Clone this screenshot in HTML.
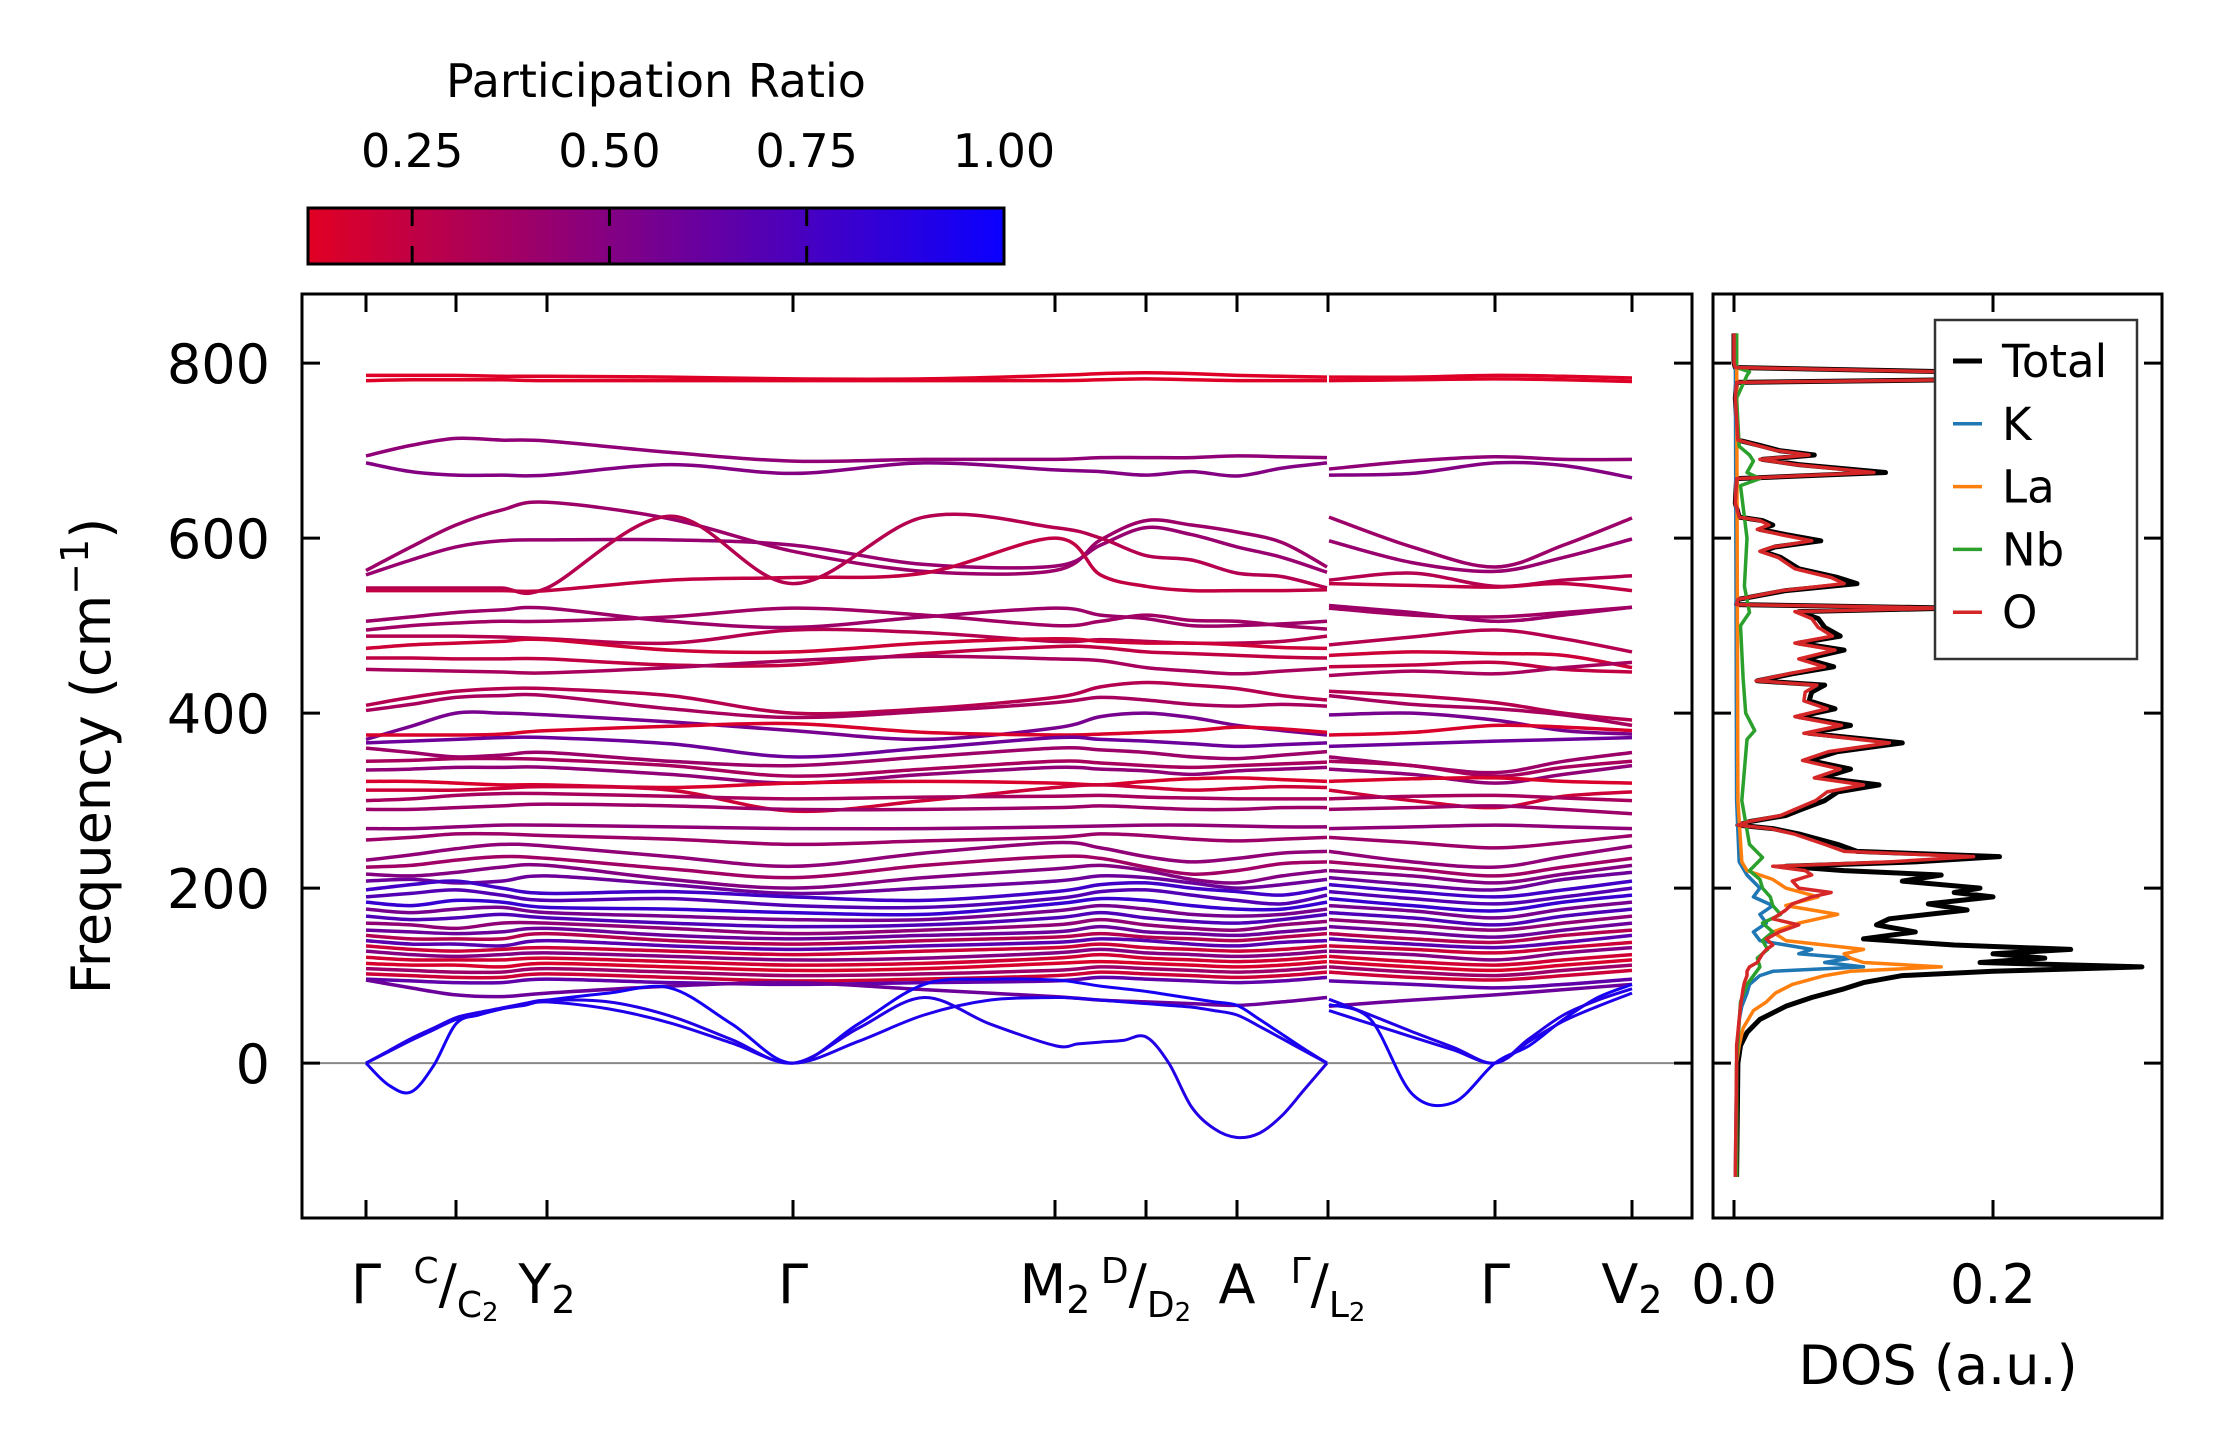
<!DOCTYPE html>
<html><head><meta charset="utf-8"><style>
html,body{margin:0;padding:0;background:#fff;}
svg{display:block;font-family:"DejaVu Sans","Liberation Sans",sans-serif;}
</style></head><body>
<svg id="fig" width="2222" height="1455" viewBox="0 0 2222 1455" xmlns="http://www.w3.org/2000/svg">
<defs>
<linearGradient id="cbgrad" x1="0" x2="1" y1="0" y2="0"><stop offset="0" stop-color="rgb(225,0,35)"/><stop offset="1" stop-color="rgb(10,0,255)"/></linearGradient>
<clipPath id="mainclip"><rect x="302" y="294" width="1390" height="924"/></clipPath>
<clipPath id="dosclip"><rect x="1713" y="294" width="449" height="924"/></clipPath>
</defs>
<g>
<text x="656" y="97" font-size="46" text-anchor="middle">Participation Ratio</text>
<rect x="308" y="208" width="696" height="56" fill="url(#cbgrad)" stroke="#000" stroke-width="3"/>
<g id="cbticks"></g>
</g>
<g id="main">
<g id="bands" clip-path="url(#mainclip)"></g>
<rect x="302" y="294" width="1390" height="924" fill="none" stroke="#000" stroke-width="3"/>
<g id="mainticks"></g>
<text transform="translate(110,756) rotate(-90)" font-size="54" text-anchor="middle">Frequency (cm<tspan font-size="38" dy="-22">−1</tspan><tspan dy="22">)</tspan></text>
</g>
<g id="dos">
<g id="doslines" clip-path="url(#dosclip)"></g>
<rect x="1713" y="294" width="449" height="924" fill="none" stroke="#000" stroke-width="3"/>
<g id="dosticks"></g>
<text x="1938" y="1384" font-size="54" text-anchor="middle">DOS (a.u.)</text>
<g id="legend"></g>
</g>
</svg>
<script>
const cbTicks = [0.25, 0.50, 0.75, 1.00];
const cbMin = 0.118, cbMax = 1.0;
const qpathA = [0, 0.90, 1.81, 4.27, 6.89, 7.80, 8.71, 9.61];
const qpathB = [9.63, 11.29, 12.66];
const labelK = ["Γ","C/C2","Y2","Γ","M2","D/D2","A","Γ/L2","Γ","V2"];
const labelD = [0,0.90,1.81,4.27,6.89,7.80,8.71,9.62,11.29,12.66];
const yTicks = [0,200,400,600,800];
const bandsA = [
[786,786,786,785,785,784,782,782,786,788,789,788,786,785,784],
[780,781,781,781,780,780,780,780,780,781,782,781,780,780,780],
[694,706,714,712,711,698,688,690,690,692,692,692,694,693,692],
[686,676,672,672,672,684,674,686,678,676,672,676,671,680,686],
[563,590,615,632,641,622,585,562,563,598,620,615,607,595,567],
[558,575,590,597,598,598,592,570,568,592,612,604,590,578,561],
[543,543,543,543,543,625,548,624,612,600,580,575,560,556,543],
[540,540,540,540,540,552,555,560,600,558,545,540,540,540,541],
[505,510,515,518,520,505,498,510,520,512,508,500,500,502,505],
[495,500,503,505,505,510,520,512,500,505,512,506,505,500,496],
[488,488,488,487,485,480,495,492,482,484,482,480,480,482,488],
[474,478,480,482,484,472,470,480,485,482,480,480,478,475,474],
[463,463,462,462,462,455,455,468,476,475,470,468,466,464,463],
[450,449,448,447,446,452,460,465,462,460,452,448,445,448,451],
[409,418,425,428,428,420,400,405,418,430,435,432,428,420,415],
[403,410,418,420,420,405,395,402,412,418,415,410,408,410,408],
[370,385,400,400,398,390,380,370,383,396,400,395,386,380,375],
[375,375,375,376,380,385,388,378,375,376,378,380,384,382,378],
[366,368,370,372,372,365,350,360,372,370,368,365,362,364,366],
[360,355,350,352,355,345,340,350,360,358,355,350,348,352,356],
[345,346,348,348,347,340,328,336,345,343,340,338,340,342,344],
[335,336,338,338,338,330,320,330,338,336,334,330,334,336,338],
[322,322,320,318,318,315,320,322,320,318,322,325,326,324,322],
[312,312,312,314,316,312,288,300,315,318,315,312,314,316,315],
[300,302,306,308,308,305,302,304,305,306,304,303,302,302,302],
[290,290,292,294,296,294,290,290,292,294,292,290,290,292,292],
[268,268,270,272,272,270,268,268,270,271,272,272,271,270,270],
[255,258,262,262,260,256,250,254,258,262,260,256,254,256,258],
[232,238,245,250,248,236,225,240,252,246,236,230,234,240,242],
[224,226,232,236,234,222,212,226,236,234,224,216,220,228,230],
[216,214,218,224,226,210,200,212,222,226,220,210,206,214,220],
[208,210,206,208,214,204,194,200,208,214,212,206,200,204,210],
[198,204,208,200,194,196,190,186,196,204,206,200,196,192,200],
[190,194,198,192,186,188,180,178,188,196,198,192,186,182,192],
[184,180,186,184,178,176,172,170,182,188,186,180,176,176,184],
[176,172,176,178,172,168,164,164,174,180,176,170,168,170,176],
[168,164,166,170,166,160,156,158,166,172,166,162,160,164,170],
[160,158,154,160,160,154,148,152,158,164,158,154,152,158,162],
[152,150,148,150,154,146,142,146,150,156,150,148,146,150,154],
[146,142,142,142,148,140,136,140,144,148,144,142,140,144,148],
[140,136,136,134,140,134,130,134,138,142,140,136,134,138,140],
[134,130,128,130,132,128,124,128,132,136,132,130,128,130,134],
[128,124,122,124,126,122,118,120,126,130,126,124,122,124,128],
[121,118,118,118,120,116,112,114,120,124,120,118,116,118,122],
[114,112,112,110,114,110,106,108,114,116,114,112,110,112,116],
[108,106,104,104,108,104,100,102,106,110,108,106,104,106,110],
[102,100,98,98,102,98,94,96,100,104,102,100,98,100,104],
[96,94,92,92,96,92,90,92,94,98,96,94,92,94,98],
[95,86,78,76,80,88,92,84,76,72,70,68,66,70,75]
];
const bandsB = [
[784,784,786,785,783],[780,781,782,781,779],[679,688,693,690,690],[672,674,686,683,669],
[624,590,567,592,623],[597,572,562,578,599],[552,560,545,552,557],[548,546,544,548,540],
[523,515,505,512,521],[520,512,510,515,521],[478,487,495,485,470],[466,470,468,466,452],
[453,455,458,450,447],[443,448,445,452,458],[425,420,412,400,392],[420,410,405,398,386],
[398,400,392,380,376],[375,378,386,384,380],[362,365,368,370,372],[350,340,332,345,355],
[345,340,328,338,345],[336,330,320,330,340],[322,325,326,322,320],[312,300,292,305,310],
[302,305,306,303,300],[290,292,294,290,285],[268,270,272,270,268],[258,252,246,252,260],
[242,230,224,236,248],[230,222,214,224,234],[220,214,206,216,226],[212,204,198,210,218],
[204,196,190,198,208],[196,188,182,190,200],[188,180,174,184,192],[180,174,166,176,184],
[172,166,158,168,176],[164,158,152,160,168],[156,150,144,152,160],[148,142,138,146,152],
[142,136,132,138,146],[134,130,126,132,138],[128,124,118,126,132],[122,116,112,118,124],
[116,110,106,112,118],[110,104,100,106,112],[104,98,95,100,106],[94,90,86,90,96],[65,72,78,84,90]
];
const bandPR = [0.13,0.13,0.45,0.5,0.4,0.42,0.3,0.25,0.4,0.38,0.3,0.2,0.25,0.35,0.3,0.35,0.55,0.15,0.6,0.4,0.35,0.45,0.15,0.2,0.35,0.4,0.45,0.4,0.45,0.38,0.5,0.6,0.78,0.7,0.82,0.55,0.72,0.45,0.6,0.3,0.68,0.2,0.5,0.18,0.15,0.4,0.2,0.65,0.6];
const acA = [
[0,-25,-33,-3,45,55,62,68,72,80,86,45,0,45,90,96,95,92,88,85,82,78,74,70,66,50,33,16,0],
[0,14,28,40,52,58,63,68,72,70,54,27,0,40,75,45,20,22,24,26,30,0,-50,-75,-85,-80,-60,-30,0],
[0,13,26,38,50,56,62,66,70,62,46,23,0,25,55,72,75,74,72,70,68,66,64,60,55,42,28,14,0]
];
const acB = [
[67,50,-35,-45,0,20,50,75,90],
[73,55,36,18,0,28,55,72,85],
[60,45,30,15,0,25,48,65,80]
];
const acPR = [0.95,0.9,0.92];
const dosFreq = [834,800,795,790,786,781,778,760,712,706,700,695,690,684,675,668,640,624,620,615,610,604,597,590,585,578,565,555,548,540,530,524,520,516,508,498,488,480,472,462,453,445,437,432,424,414,405,396,386,377,366,356,346,336,326,318,310,300,290,283,276,272,268,262,250,242,236,230,225,220,215,208,200,195,190,182,175,165,158,150,142,135,130,125,120,115,110,105,100,92,85,75,65,50,35,20,0,-130];
const dosTotal = [0,0,0.001,0.17,0.17,0.17,0.002,0.001,0.003,0.02,0.035,0.062,0.022,0.05,0.117,0.002,0.001,0.004,0.022,0.03,0.02,0.04,0.067,0.032,0.022,0.036,0.05,0.08,0.095,0.04,0.003,0.002,0.17,0.05,0.065,0.07,0.082,0.05,0.085,0.055,0.077,0.045,0.018,0.07,0.06,0.058,0.078,0.05,0.09,0.058,0.13,0.08,0.058,0.09,0.068,0.112,0.08,0.07,0.052,0.04,0.012,0.003,0.03,0.05,0.08,0.095,0.205,0.14,0.04,0.085,0.16,0.13,0.19,0.17,0.2,0.15,0.18,0.12,0.11,0.14,0.1,0.17,0.26,0.2,0.24,0.19,0.315,0.2,0.13,0.1,0.085,0.06,0.04,0.02,0.01,0.005,0.003,0.002];
const dosO = [0,0,0.001,0.165,0.165,0.165,0.002,0.001,0.003,0.018,0.033,0.058,0.02,0.047,0.108,0.002,0.001,0.004,0.02,0.027,0.018,0.036,0.06,0.03,0.02,0.034,0.047,0.075,0.085,0.037,0.003,0.002,0.165,0.047,0.06,0.065,0.076,0.047,0.078,0.05,0.07,0.042,0.017,0.064,0.055,0.054,0.072,0.047,0.083,0.054,0.12,0.073,0.053,0.082,0.062,0.1,0.072,0.063,0.047,0.036,0.011,0.003,0.028,0.046,0.07,0.085,0.185,0.12,0.03,0.055,0.06,0.045,0.05,0.075,0.06,0.045,0.04,0.03,0.05,0.035,0.025,0.03,0.025,0.022,0.02,0.018,0.012,0.01,0.01,0.008,0.007,0.006,0.005,0.004,0.003,0.002,0.002,0.001];
const kFreq = [834,300,230,215,200,190,180,170,160,150,140,130,125,120,115,110,105,100,90,80,65,50,30,0,-130];
const kDos = [0.001,0.002,0.004,0.01,0.02,0.015,0.03,0.02,0.025,0.015,0.02,0.06,0.05,0.09,0.07,0.1,0.03,0.02,0.012,0.01,0.006,0.004,0.003,0.002,0.001];
const laFreq = [834,300,230,220,210,200,190,180,170,160,150,140,130,125,120,115,110,105,100,90,80,70,60,40,20,0,-130];
const laDos = [0.002,0.003,0.006,0.01,0.03,0.04,0.065,0.04,0.08,0.05,0.03,0.04,0.1,0.085,0.09,0.1,0.16,0.09,0.07,0.045,0.032,0.025,0.015,0.007,0.004,0.002,0.002];
const nbFreq = [834,795,790,786,760,705,695,688,675,668,660,600,545,530,515,500,440,400,380,370,300,250,235,220,210,200,190,180,170,160,150,140,130,120,110,90,70,0,-130];
const nbDos = [0.002,0.002,0.012,0.01,0.002,0.004,0.012,0.015,0.01,0.02,0.005,0.01,0.008,0.01,0.012,0.005,0.007,0.009,0.016,0.01,0.006,0.012,0.022,0.012,0.02,0.022,0.028,0.03,0.036,0.022,0.03,0.022,0.026,0.018,0.02,0.01,0.005,0.002,0.002];
const legendNames = ["Total","K","La","Nb","O"];
const legendColors = ["#000000","#1f77b4","#ff7f0e","#2ca02c","#d62728"];

const NS = "http://www.w3.org/2000/svg";
function mk(tag, attrs, parent){ const e=document.createElementNS(NS,tag); for(const k in attrs) e.setAttribute(k,attrs[k]); if(parent) parent.appendChild(e); return e; }
const X0=366, XPD=100;
const Y_TOP=294, Y_BOT=1218, F_TOP=879, F_BOT=-177;
function yOf(f){ return Y_TOP + (F_TOP-f)/(F_TOP-F_BOT)*(Y_BOT-Y_TOP); }
function interpNodes(nodes,k){ const i=Math.min(Math.floor(k),nodes.length-2); const t=k-i; return nodes[i]+(nodes[i+1]-nodes[i])*t; }
function xA(k){ return X0 + interpNodes(qpathA,k)*XPD; }
function xB(k){ return X0 + interpNodes(qpathB,k-7)*XPD; }
function xDist(d){ return X0 + d*XPD; }
function prColor(pr){ let t=(pr-cbMin)/(cbMax-cbMin); t=Math.max(0,Math.min(1,t)); return `rgb(${Math.round(225-215*t)},0,${Math.round(35+220*t)})`; }
function smoothPath(pts){
  let d=`M${pts[0][0].toFixed(1)},${pts[0][1].toFixed(1)}`;
  for(let i=0;i<pts.length-1;i++){
    const p0=pts[Math.max(0,i-1)],p1=pts[i],p2=pts[i+1],p3=pts[Math.min(pts.length-1,i+2)];
    const c1=[p1[0]+(p2[0]-p0[0])/6,p1[1]+(p2[1]-p0[1])/6];
    const c2=[p2[0]-(p3[0]-p1[0])/6,p2[1]-(p3[1]-p1[1])/6];
    d+=`C${c1[0].toFixed(1)},${c1[1].toFixed(1)} ${c2[0].toFixed(1)},${c2[1].toFixed(1)} ${p2[0].toFixed(1)},${p2[1].toFixed(1)}`;
  }
  return d;
}
const gB=document.getElementById("bands");
const zl=mk("line",{x1:302,x2:1692,y1:yOf(0),y2:yOf(0),stroke:"#888","stroke-width":2},gB);


bandsA.forEach((arr,bi)=>{
  const ptsA=arr.map((f,i)=>[xA(i*0.5),yOf(f)]);
  const p=mk("path",{d:smoothPath(ptsA),fill:"none",stroke:prColor(bandPR[bi]),"stroke-width":3.5},gB);
  
  
  const ptsB=bandsB[bi].map((f,i)=>[xB(7+i*0.5),yOf(f)]);
  const q=mk("path",{d:smoothPath(ptsB),fill:"none",stroke:prColor(bandPR[bi]),"stroke-width":3.5},gB);
  
  
});
acA.forEach((arr,bi)=>{
  const ptsA=arr.map((f,i)=>[xA(i*0.25),yOf(f)]);
  const p=mk("path",{d:smoothPath(ptsA),fill:"none",stroke:prColor(acPR[bi]),"stroke-width":3},gB);
  
  
  const ptsB=acB[bi].map((f,i)=>[xB(7+i*0.25),yOf(f)]);
  const q=mk("path",{d:smoothPath(ptsB),fill:"none",stroke:prColor(acPR[bi]),"stroke-width":3},gB);
  
  
});
const gT=document.getElementById("mainticks");
const TL=18;
yTicks.forEach(v=>{
  const y=yOf(v);
  const a=mk("line",{x1:302,x2:302+TL,y1:y,y2:y,stroke:"#000","stroke-width":3},gT);
  
  
  const b=mk("line",{x1:1692-TL,x2:1692,y1:y,y2:y,stroke:"#000","stroke-width":3},gT);
  
  
  const t=mk("text",{x:270,y:y+20,"font-size":54,"text-anchor":"end"},gT);
  
  
  t.textContent=String(v);
});
function addLabel(parent,x,lab){
  const t=mk("text",{x:x,y:1303,"font-size":54,"text-anchor":"middle"},parent);
  
  
  if(lab.includes("/")){
    const parts=lab.split("/");
    const s1=mk("tspan",{"font-size":36,dy:-20},t); s1.textContent=parts[0];
    const s2=mk("tspan",{"font-size":54,dy:20},t); s2.textContent="/";
    const s3=mk("tspan",{"font-size":36,dy:14},t); s3.textContent=parts[1].replace("2","");
    const s4=mk("tspan",{"font-size":26,dy:4},t); s4.textContent="2";
  } else if(lab.endsWith("2")){
    const s1=mk("tspan",{},t); s1.textContent=lab.slice(0,-1);
    const s2=mk("tspan",{"font-size":38,dy:10},t); s2.textContent="2";
  } else t.textContent=lab;
}
labelD.forEach((d,i)=>{
  const x=xDist(d);
  const a=mk("line",{x1:x,x2:x,y1:1218,y2:1218-TL,stroke:"#000","stroke-width":3},gT);
  
  
  const b=mk("line",{x1:x,x2:x,y1:294,y2:294+TL,stroke:"#000","stroke-width":3},gT);
  
  
  addLabel(gT,x,labelK[i]);
});
const gC=document.getElementById("cbticks");
cbTicks.forEach(v=>{
  const x=308+(v-cbMin)/(cbMax-cbMin)*696;
  if(v<cbMax){
    const a=mk("line",{x1:x,x2:x,y1:208,y2:226,stroke:"#000","stroke-width":3},gC);
    
    
    const b=mk("line",{x1:x,x2:x,y1:246,y2:264,stroke:"#000","stroke-width":3},gC);
    
    
  }
  const t=mk("text",{x:x,y:167,"font-size":46,"text-anchor":"middle"},gC);
  
  
  t.textContent=v.toFixed(2);
});
const DX0=1734, DXS=1295;
function xD(v){ return DX0+v*DXS; }
const gD=document.getElementById("doslines");
function dosLine(fr,vals,color,w,name){
  const d=fr.map((f,i)=>(i?"L":"M")+xD(vals[i]).toFixed(1)+","+yOf(f).toFixed(1)).join("");
  const p=mk("path",{d:d,fill:"none",stroke:color,"stroke-width":w,"stroke-linejoin":"round"},gD);
  
  
}
dosLine(dosFreq,dosTotal,"#000",5,"dos-total-line");
dosLine(kFreq,kDos,"#1f77b4",3.5,"dos-k-line");
dosLine(laFreq,laDos,"#ff7f0e",3.5,"dos-la-line");
dosLine(nbFreq,nbDos,"#2ca02c",3.5,"dos-nb-line");
dosLine(dosFreq,dosO,"#d62728",3.5,"dos-o-line");
const gDT=document.getElementById("dosticks");
yTicks.forEach(v=>{
  const y=yOf(v);
  const a=mk("line",{x1:1713,x2:1713+TL,y1:y,y2:y,stroke:"#000","stroke-width":3},gDT);
  
  
  const b=mk("line",{x1:2162-TL,x2:2162,y1:y,y2:y,stroke:"#000","stroke-width":3},gDT);
  
  
});
[0.0,0.2].forEach(v=>{
  const x=xD(v);
  const a=mk("line",{x1:x,x2:x,y1:1218,y2:1218-TL,stroke:"#000","stroke-width":3},gDT);
  
  
  const b=mk("line",{x1:x,x2:x,y1:294,y2:294+TL,stroke:"#000","stroke-width":3},gDT);
  
  
  const t=mk("text",{x:x,y:1303,"font-size":54,"text-anchor":"middle"},gDT);
  
  
  t.textContent=v.toFixed(1);
});
const gL=document.getElementById("legend");
const lb=mk("rect",{x:1935,y:320,width:202,height:339,fill:"#fff",stroke:"#333","stroke-width":2.5},gL);


legendNames.forEach((n,i)=>{
  const y=361+i*62.8;
  const ln=mk("line",{x1:1953,x2:1982,y1:y,y2:y,stroke:legendColors[i],"stroke-width":i===0?5:3.5},gL);
  
  
  const t=mk("text",{x:2002,y:y+16,"font-size":45},gL);
  
  
  t.textContent=n;
});
</script>
</body></html>
